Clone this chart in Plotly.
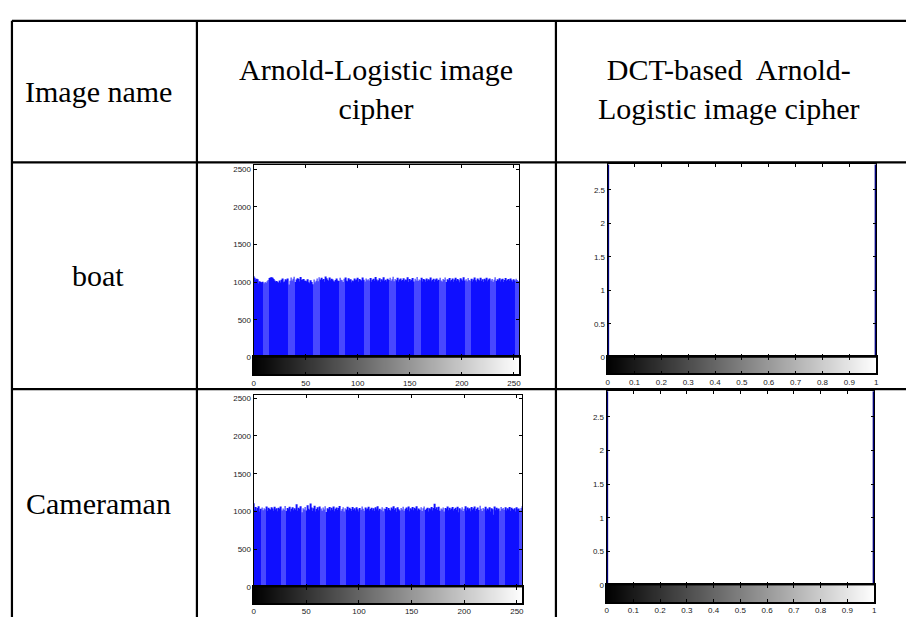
import plotly.graph_objects as go

W, H = 906, 617

# ---------------- data ----------------
gray_levels = list(range(256))

boat_counts = [
    1077, 1058, 1031, 1046, 1040, 982, 1013, 1001, 994, 1005, 987, 1002, 993, 1011, 1029, 1056,
    1063, 1066, 1058, 1043, 1021, 1007, 1016, 1002, 989, 1022, 995, 1033, 1047, 999, 1010, 1040,
    1025, 1049, 968, 1018, 1061, 1021, 1046, 1072, 1003, 1036, 1051, 1042, 1009, 1067, 1028, 1034,
    1041, 1020, 1018, 1009, 1038, 1000, 987, 1024, 1002, 971, 1037, 1000, 1019, 1048, 1013, 1066,
    1034, 1058, 1028, 1043, 1006, 1076, 1053, 1031, 1017, 1063, 1024, 1044, 1036, 1011, 1005, 1030,
    1049, 1021, 1014, 1058, 1032, 1027, 1003, 1045, 1062, 1019, 1008, 1052, 1031, 1040, 998, 1022,
    1012, 1047, 1025, 1036, 1058, 1004, 1041, 1029, 1017, 1062, 1033, 1010, 1048, 1026, 1039, 1021,
    1055, 1007, 1031, 1044, 1018, 1069, 1036, 1011, 1027, 1053, 1002, 1040, 1021, 1064, 1015, 1033,
    1009, 1046, 1028, 1057, 1019, 1038, 1071, 1013, 1042, 1025, 1060, 1006, 1034, 1049, 1017, 1030,
    1052, 1011, 1037, 1024, 1065, 1003, 1043, 1019, 1031, 1056, 1008, 1046, 1022, 1068, 1014, 1035,
    1027, 1059, 1010, 1041, 1033, 1005, 1050, 1018, 1038, 1026, 1061, 1012, 1029, 1044, 1007, 1036,
    1048, 1016, 1032, 1057, 1021, 1009, 1043, 1028, 1063, 1002, 1039, 1025, 1054, 1013, 1030, 1047,
    1006, 1035, 1058, 1019, 1042, 1027, 1000, 1051, 1034, 1015, 1066, 1023, 1040, 1011, 1055, 1029,
    1018, 1045, 1008, 1037, 1061, 1026, 1004, 1049, 1032, 1020, 1057, 1014, 1038, 1003, 1046, 1024,
    1059, 1012, 1034, 1050, 1021, 1043, 1007, 1031, 1064, 1017, 1039, 1025, 1053, 1010, 1036, 1045,
    1001, 1028, 1056, 1015, 1033, 1041, 1019, 1049, 1027, 1005, 1038, 1022, 1044, 1030, 1016, 1008,
]

cameraman_counts = [
    1112, 1024, 1060, 1013, 1047, 1071, 1002, 1038, 1055, 1019, 1043, 1030, 1066, 1008, 1050, 1035,
    1021, 1058, 1040, 1011, 1063, 1027, 1046, 1005, 1052, 1033, 1069, 1016, 1041, 1024, 1075, 1009,
    1048, 1031, 1064, 1003, 1039, 1057, 1018, 1044, 1026, 1098, 1012, 1051, 1036, 1070, 992, 1046,
    1029, 1061, 1014, 1083, 1037, 1022, 1108, 1055, 1007, 1043, 1078, 1001, 1034, 1059, 1019, 1066,
    1040, 1010, 1053, 1028, 1072, 996, 1045, 1032, 1061, 1015, 1050, 1024, 1067, 1006, 1038, 1054,
    1020, 1047, 1074, 1012, 1035, 1058, 1003, 1043, 1029, 1065, 1017, 1052, 1036, 1009, 1060, 1026,
    1044, 1013, 1057, 1031, 1002, 1049, 1023, 1068, 1037, 1010, 1054, 1027, 1041, 1063, 1016, 1034,
    1051, 1019, 1045, 1007, 1059, 1030, 1071, 1014, 1038, 1026, 1056, 1004, 1042, 1033, 1062, 1018,
    1047, 1025, 1009, 1053, 1036, 1070, 1021, 1044, 999, 1058, 1032, 1015, 1049, 1027, 1064, 1011,
    1039, 1055, 1023, 1068, 1006, 1046, 1029, 1061, 1017, 1050, 1035, 1072, 1013, 1041, 1026, 1057,
    1008, 1043, 1066, 1020, 1037, 1052, 1001, 1045, 1030, 1060, 1016, 1048, 1104, 1034, 1058, 1022,
    1064, 1011, 1040, 1027, 1055, 1003, 1047, 1033, 1069, 1018, 1051, 1025, 1042, 1060, 1014, 1036,
    1050, 1021, 1065, 990, 1044, 1028, 1057, 1009, 1039, 1072, 1016, 1053, 1031, 1046, 1005, 1061,
    1026, 1043, 1068, 1012, 1035, 1054, 1022, 1078, 1037, 1007, 1049, 1030, 1063, 1015, 1041, 1024,
    1058, 1003, 1046, 1032, 960, 1067, 1019, 1052, 1027, 1040, 1011, 1061, 1034, 1048, 1023, 1056,
    1016, 1044, 1029, 1062, 1008, 1051, 1036, 1020, 1045, 1003, 1057, 1031, 1042, 1014, 1049, 1070,
]

# DCT-based cipher histograms: all mass at the two ends of [0, 1]
dct_levels = [0, 1]
dct_boat_counts = [131072, 131072]
dct_cameraman_counts = [131072, 131072]

hist_xticks = [0, 50, 100, 150, 200, 250]
hist_yticks = [0, 500, 1000, 1500, 2000, 2500]
unit_xticks = [0, 0.1, 0.2, 0.3, 0.4, 0.5, 0.6, 0.7, 0.8, 0.9, 1]
unit_xticklabels = ["0", "0.1", "0.2", "0.3", "0.4", "0.5", "0.6", "0.7", "0.8", "0.9", "1"]
unit_yticks = [0, 0.5, 1, 1.5, 2, 2.5]
unit_yticklabels = ["0", "0.5", "1", "1.5", "2", "2.5"]

header_texts = ["Image name", "Arnold-Logistic image<br>cipher", "DCT-based  Arnold-<br>Logistic image cipher"]
row_names = ["boat", "Cameraman"]

# ---------------- helpers ----------------
def dx(a, b):
    return [a / W, b / W]

def dy(top, bot):
    return [1 - bot / H, 1 - top / H]

fig = go.Figure()
layout = {}
tickfont = dict(family="Liberation Sans, Arial", size=8, color="#1a1a1a")

# panel specs: (kind, counts, x0, x1, top, zero, stripbottom)
panels = [
    ("hist", boat_counts, 253, 520, 166, 360, 377),
    ("unit", dct_boat_counts, 609, 879, 165, 360, 376),
    ("hist", cameraman_counts, 253, 523, 398, 592, 608),
    ("unit", dct_cameraman_counts, 608, 877, 394, 590, 607),
]

for i, (kind, counts, x0, x1, top, zero, sb) in enumerate(panels):
    km = 2 * i + 1
    ks = 2 * i + 2
    xm, ym = f"x{km}", f"y{km}"
    xs, ys = f"x{ks}", f"y{ks}"
    if kind == "hist":
        xr = [0, 255]
        ymax = 2550 if i == 0 else 2540
        xt, xtl = hist_xticks, [str(v) for v in hist_xticks]
        yt, ytl = hist_yticks, [str(v) for v in hist_yticks]
        fig.add_trace(go.Bar(x=gray_levels, y=counts, marker=dict(color="#1010ff", line=dict(width=0)),
                             xaxis=xm, yaxis=ym, showlegend=False, hoverinfo="skip"))
        strip_x = gray_levels
    else:
        xr = [0, 1]
        ymax = 2.88
        xt, xtl = unit_xticks, unit_xticklabels
        yt, ytl = unit_yticks, unit_yticklabels
        sx, sy = [], []
        for lv, c in zip(dct_levels, counts):
            sx += [lv, lv, None]
            sy += [0, c, None]
        fig.add_trace(go.Scatter(x=sx, y=sy, mode="lines", line=dict(color="#00007a", width=3),
                                 xaxis=xm, yaxis=ym, showlegend=False, hoverinfo="skip"))
        strip_x = [v / 255 for v in gray_levels]
    fig.add_trace(go.Heatmap(z=[gray_levels], x=strip_x, y=[0.5], zmin=0, zmax=255,
                             colorscale=[[0, "black"], [1, "white"]], showscale=False,
                             xaxis=xs, yaxis=ys, hoverinfo="skip"))
    layout[f"xaxis{km}"] = dict(domain=dx(x0, x1), range=xr, anchor=ym, tickvals=xt,
                                showticklabels=False, ticks="inside", ticklen=3, tickcolor="black",
                                showline=True, linecolor="black", linewidth=1, mirror="ticks",
                                showgrid=False, zeroline=False)
    layout[f"yaxis{km}"] = dict(domain=dy(top, zero), range=[0, ymax], anchor=xm, tickvals=yt,
                                ticktext=ytl, tickfont=tickfont, ticks="inside", ticklen=3,
                                tickcolor="black", showline=True, linecolor="black", linewidth=1,
                                mirror="ticks", showgrid=False, zeroline=False)
    layout[f"xaxis{ks}"] = dict(domain=dx(x0, x1), range=xr, anchor=ys, tickvals=xt, ticktext=xtl,
                                tickfont=tickfont, ticks="inside", ticklen=3, tickcolor="black",
                                showline=True, linecolor="black", linewidth=1.5, mirror="ticks",
                                showgrid=False, zeroline=False)
    layout[f"yaxis{ks}"] = dict(domain=dy(zero, sb), range=[0, 1], anchor=xs, showticklabels=False,
                                ticks="", showline=True, linecolor="black", linewidth=1.5, mirror=True,
                                showgrid=False, zeroline=False)

# ---------------- table lines ----------------
lw = 2.2
table_left, table_top = 10, 20
col1, col2 = 196, 557
row1, row2 = 163, 392
shapes = []
def hline(y, xa=table_left, xb=W + 5):
    shapes.append(dict(type="line", xref="paper", yref="paper", x0=xa / W, x1=xb / W,
                       y0=1 - y / H, y1=1 - y / H, line=dict(color="black", width=lw), layer="below"))
def vline(x, ya=table_top, yb=H + 5):
    shapes.append(dict(type="line", xref="paper", yref="paper", x0=x / W, x1=x / W,
                       y0=1 - ya / H, y1=1 - yb / H, line=dict(color="black", width=lw), layer="below"))
hline(table_top); hline(row1); hline(row2)
vline(table_left); vline(col1); vline(col2)

# ---------------- text ----------------
serif = dict(family="Liberation Serif, Times New Roman, serif", size=30, color="black")
annotations = []
def text(t, cx, cy):
    annotations.append(dict(text=t, x=cx / W, y=1 - cy / H, xref="paper", yref="paper",
                            showarrow=False, font=serif, xanchor="center", yanchor="middle", align="center"))
text(header_texts[0], 97, 91)
text(header_texts[1], 376, 89)
text(header_texts[2], 731, 89)
text(row_names[0], 97, 277)
text(row_names[1], 97, 507)

fig.update_layout(width=W, height=H, margin=dict(l=0, r=0, t=0, b=0), paper_bgcolor="white",
                  plot_bgcolor="white", bargap=0.25, shapes=shapes, annotations=annotations,
                  showlegend=False, **layout)

fig.write_html("out.html", config={"displayModeBar": False},
               post_script="document.body.style.margin='0px';document.body.style.overflow='hidden';")
